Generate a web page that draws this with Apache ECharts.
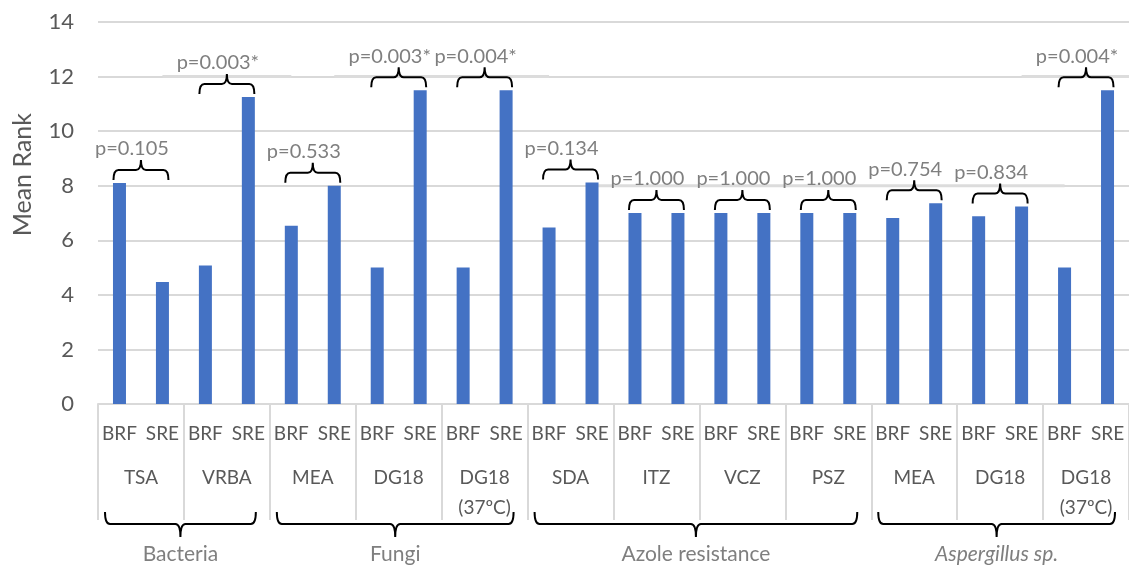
<!DOCTYPE html>
<html>
<head>
<meta charset="utf-8">
<script src="https://cdn.jsdelivr.net/npm/echarts@6/dist/echarts.min.js"></script>
<style>
html,body{margin:0;padding:0;background:#fff;}
#chart{width:1129px;height:567px;}
</style>
</head>
<body>
<div id="chart"></div>
<script>
// ---- data ----
const barLabels = ['BRF','SRE','BRF','SRE','BRF','SRE','BRF','SRE','BRF','SRE','BRF','SRE',
                   'BRF','SRE','BRF','SRE','BRF','SRE','BRF','SRE','BRF','SRE','BRF','SRE'];
const media = ['TSA','VRBA','MEA','DG18','DG18\n(37ºC)','SDA','ITZ','VCZ','PSZ','MEA','DG18','DG18\n(37ºC)'];
const meanRank = [8.1,4.47, 5.08,11.25, 6.53,8.0, 5.0,11.5, 5.0,11.5, 6.47,8.12,
                  7.0,7.0, 7.0,7.0, 7.0,7.0, 6.82,7.36, 6.88,7.24, 5.0,11.5];
const pValues = ['p=0.105','p=0.003*','p=0.533','p=0.003*','p=0.004*','p=0.134',
                 'p=1.000','p=1.000','p=1.000','p=0.754','p=0.834','p=0.004*'];
const sections = ['Bacteria','Fungi','Azole resistance','Aspergillus sp.'];
const sectionStart = [0,2,5,9];
const sectionEnd = [1,4,8,11];
const yTicks = [0,2,4,6,8,10,12,14];
// faint label-box edges lying on gridlines (x in bar-category units, y value)
const boxEdgeFrom = [0.94, 5.35, 20.85, 11.16];
const boxEdgeTo   = [4.15, 10.19, 23.7, 21.9];
const boxEdgeAt   = [12, 12, 12, 8];

// ---- build ----
const pairData = pValues.map((p,i)=>[2*i, 2*i+1, Math.max(meanRank[2*i], meanRank[2*i+1]), i]);
const sectionData = sections.map((s,i)=>[sectionStart[i], sectionEnd[i], i]);
const edgeData = boxEdgeFrom.map((f,i)=>[f, boxEdgeTo[i], boxEdgeAt[i]]);

const FONT = 'Lato, "Liberation Sans", sans-serif';
const chart = echarts.init(document.getElementById('chart'), null, {renderer:'canvas'});

function bracePath(x1, x2, yArm, yBar, yTip, r){
  const xm = (x1+x2)/2;
  return 'M'+x1+','+yArm+' Q'+x1+','+yBar+' '+(x1+r)+','+yBar+
         ' L'+(xm-r)+','+yBar+' Q'+xm+','+yBar+' '+xm+','+yTip+
         ' Q'+xm+','+yBar+' '+(xm+r)+','+yBar+
         ' L'+(x2-r)+','+yBar+' Q'+x2+','+yBar+' '+x2+','+yArm;
}

const option = {
  animation:false,
  backgroundColor:'#fff',
  grid:{left:98, top:22, width:1033, height:382, containLabel:false},
  xAxis:[{
    type:'category', data:barLabels, gridIndex:0,
    axisLine:{show:true, lineStyle:{color:'#d9d9d9', width:2}},
    axisTick:{show:false},
    axisLabel:{interval:0, fontFamily:FONT, fontSize:19, color:'#595959', margin:20}
  },{
    type:'category', data:media, gridIndex:0, position:'bottom',
    axisLine:{show:false},
    axisTick:{show:true, length:116, interval:0, lineStyle:{color:'#d9d9d9', width:2}},
    axisLabel:{interval:0, fontFamily:FONT, fontSize:19, color:'#595959', margin:59, lineHeight:30, verticalAlign:'top'}
  }],
  yAxis:{
    type:'value', min:0, max:14, interval:2,
    axisLine:{show:false}, axisTick:{show:false},
    axisLabel:{fontFamily:FONT, fontSize:22, color:'#595959', margin:24,
      formatter:v=>yTicks.includes(v)?String(v):''},
    splitLine:{lineStyle:{color:'#d9d9d9', width:2}}
  },
  graphic:[{
    type:'text', left:10, top:113, rotation:Math.PI/2,
    style:{text:'Mean Rank', fontFamily:FONT, fontSize:25, fill:'#595959'}
  }],
  series:[{
    type:'custom', xAxisIndex:0, yAxisIndex:0, data:edgeData, clip:false, z:1, silent:true,
    encode:{x:[0,1], y:2},
    renderItem:function(params, api){
      const a = api.coord([api.value(0), api.value(2)]);
      const b = api.coord([api.value(1), api.value(2)]);
      return {type:'line', shape:{x1:a[0], y1:a[1], x2:b[0], y2:b[1]},
              style:{stroke:'#dcdcdc', lineWidth:3}};
    }
  },{
    type:'bar', data:meanRank, xAxisIndex:0, barWidth:13,
    itemStyle:{color:'#4472C4'}, z:2
  },{
    type:'custom', xAxisIndex:0, yAxisIndex:0, data:pairData, clip:false, z:5,
    encode:{x:[0,1], y:2},
    renderItem:function(params, api){
      const a = api.coord([api.value(0), api.value(2)]);
      const b = api.coord([api.value(1), api.value(2)]);
      const x1 = a[0]-6, x2 = b[0]+6;
      const yArm = a[1]-3, yBar = yArm-10, yTip = yArm-20;
      const xm = (x1+x2)/2;
      return {type:'group', children:[
        {type:'path', shape:{pathData:bracePath(x1,x2,yArm,yBar,yTip,5)},
         style:{stroke:'#000', lineWidth:2, fill:null}},
        {type:'text', x:xm-9, y:yTip-11,
         style:{text:pValues[api.value(3)], fontFamily:FONT, fontSize:20, fill:'#7f7f7f',
                align:'center', verticalAlign:'middle'}}
      ]};
    }
  },{
    type:'custom', xAxisIndex:1, yAxisIndex:0, data:sectionData, clip:false, z:5,
    encode:{x:[0,1]},
    renderItem:function(params, api){
      const w = api.size([1,0])[0];
      const a = api.coord([api.value(0), 0]);
      const b = api.coord([api.value(1), 0]);
      const x1 = a[0]-w/2+7, x2 = b[0]+w/2-14;
      const y0 = a[1];
      const yArm = y0+108, yBar = y0+120, yTip = y0+133;
      const xm = (x1+x2)/2;
      const idx = api.value(2);
      return {type:'group', children:[
        {type:'path', shape:{pathData:bracePath(x1,x2,yArm,yBar,yTip,5)},
         style:{stroke:'#000', lineWidth:2, fill:null}},
        {type:'text', x:xm, y:y0+150,
         style:{text:sections[idx], fontFamily:FONT, fontSize:21, fill:'#7f7f7f',
                fontStyle: idx===3?'italic':'normal',
                align:'center', verticalAlign:'middle'}}
      ]};
    }
  }]
};
chart.setOption(option);
</script>
</body>
</html>
